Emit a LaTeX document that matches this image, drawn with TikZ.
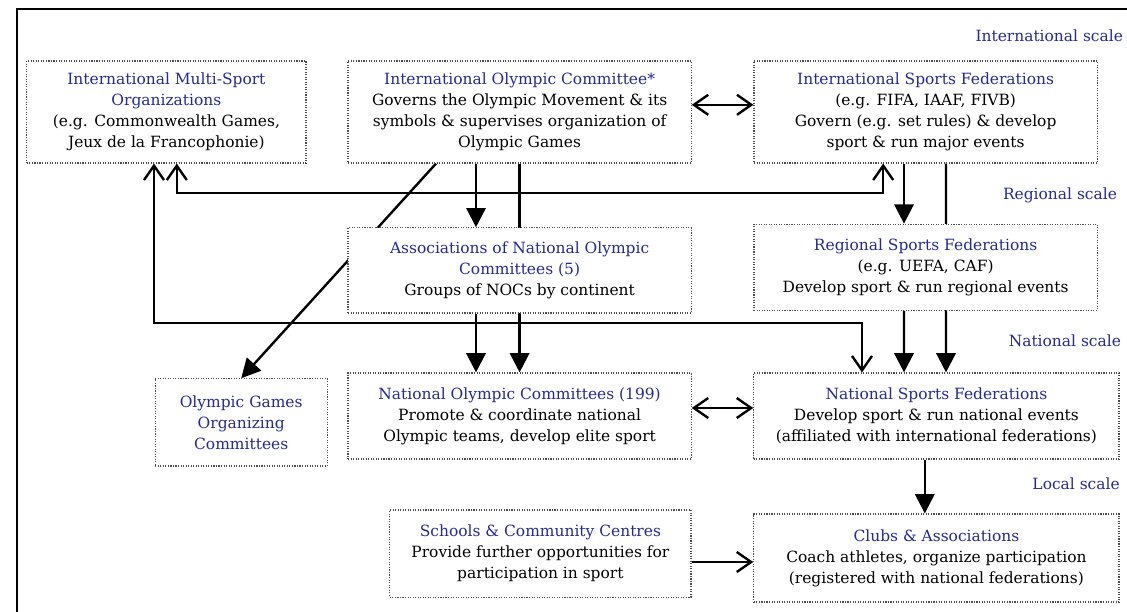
\documentclass[tikz,border=0pt]{standalone}
\usepackage{fontspec}
\setmainfont{DejaVu Serif}
\usepackage{tikz}
\usetikzlibrary{calc,arrows.meta,backgrounds}
\usepackage{xcolor}
\definecolor{titleblue}{RGB}{38,42,150}
\tikzset{
	box/.style={draw=black!70, densely dotted, line width=0.8pt, fill=white, align=center, inner sep=2pt, font=\fontsize{11}{14.9}\selectfont},
	link/.style={line width=1.7pt, black},
	solidtip/.style={link, -{Triangle[width=0.48cm,length=0.48cm]}},
	opentip/.style={link, -{Straight Barb[width=0.5cm,length=0.36cm]}},
	opentips/.style={link, {Straight Barb[width=0.5cm,length=0.36cm]}-{Straight Barb[width=0.5cm,length=0.36cm]}},
	scalelabel/.style={anchor=east, inner sep=0pt, text=titleblue, font=\fontsize{11}{14.9}\selectfont}
}
\newcommand{\ttl}[1]{\textcolor{titleblue}{#1}}

\begin{document}
\begin{tikzpicture}
		\useasboundingbox (0,0) rectangle (28.175,-15.3);
		\draw[line width=2pt] (0.425,-15.3) -- (0.425,-0.225) -- (28.175,-0.225);
		
		\node (intl) at (28.08,-0.9) [scalelabel] {International scale};
		\node (regl) at (27.93,-4.875) [scalelabel] {Regional scale};
		\node (natl) at (28.03,-8.525) [scalelabel] {National scale};
		\node (locl) at (28.0,-12.1) [scalelabel] {Local scale};
		
		\node (ms) at (4.16,-2.8) [box, minimum width=6.98cm, minimum height=2.55cm] {\ttl{International Multi-Sport}\\ \ttl{Organizations}\\ (e.g. Commonwealth Games,\\ Jeux de la Francophonie)};
		\node (ioc) at (12.99,-2.8) [box, minimum width=8.58cm, minimum height=2.55cm] {\ttl{International Olympic Committee*}\\ Governs the Olympic Movement \& its\\ symbols \& supervises organization of\\ Olympic Games};
		\node (isf) at (23.14,-2.8) [box, minimum width=8.58cm, minimum height=2.55cm] {\ttl{International Sports Federations}\\ (e.g. FIFA, IAAF, FIVB)\\ Govern (e.g. set rules) \& develop\\ sport \& run major events};
		
		\node (anoc) at (12.99,-6.76) [box, minimum width=8.58cm, minimum height=2.13cm] {\ttl{Associations of National Olympic}\\ \ttl{Committees (5)}\\ Groups of NOCs by continent};
		\node (rsf) at (23.14,-6.68) [box, minimum width=8.58cm, minimum height=2.15cm] {\ttl{Regional Sports Federations}\\ (e.g. UEFA, CAF)\\ Develop sport \& run regional events};
		
		\node (ogoc) at (6.03,-10.56) [box, minimum width=4.3cm, minimum height=2.18cm] {\ttl{Olympic Games}\\ \ttl{Organizing}\\ \ttl{Committees}};
		\node (noc) at (12.99,-10.4) [box, minimum width=8.58cm, minimum height=2.15cm] {\ttl{National Olympic Committees (199)}\\ Promote \& coordinate national\\ Olympic teams, develop elite sport};
		\node (nsf) at (23.41,-10.4) [box, minimum width=9.13cm, minimum height=2.15cm] {\ttl{National Sports Federations}\\ Develop sport \& run national events\\ (affiliated with international federations)};
		
		\node (sch) at (13.51,-13.84) [box, minimum width=7.53cm, minimum height=2.18cm] {\ttl{Schools \& Community Centres}\\ Provide further opportunities for\\ participation in sport};
		\node (clubs) at (23.41,-13.95) [box, minimum width=9.13cm, minimum height=2.2cm] {\ttl{Clubs \& Associations}\\ Coach athletes, organize participation\\ (registered with national federations)};
		
		\begin{scope}[on background layer]
		\draw[opentips] ($(ioc.east)+(0,0.18)$) -- ($(isf.west)+(0,0.18)$);
		\draw[opentips] ($(noc.east)+(0,0.2)$) -- ($(nsf.west)+(0,0.2)$);
		\draw[opentip] ($(sch.east)+(0,-0.21)$) -- ($(clubs.west)+(0,-0.1)$);
		
		\draw[opentips] ($(ms.south)+(0.26,0)$) -- ++(0,-0.73) -| ($(isf.south)+(-1.06,0)$);
		\draw[opentips] ($(ms.south)+(-0.31,0)$) -- ++(0,-3.98) -| ($(nsf.north)+(-1.86,0)$);
		
		\draw[solidtip] ($(ioc.south)+(-1.09,0)$) -- ($(anoc.north)+(-1.09,0)$);
		\draw[solidtip] ($(anoc.south)+(-1.09,0)$) -- ($(noc.north)+(-1.09,0)$);
		\draw[solidtip] (ioc.south) -- (noc.north);
		\draw[solidtip] ($(ioc.south)+(-2.09,0)$) -- (ogoc.north);
		
		\draw[solidtip] ($(isf.south)+(-0.54,0)$) -- ($(rsf.north)+(-0.54,0)$);
		\draw[solidtip] ($(rsf.south)+(-0.54,0)$) -- ($(nsf.north)+(-0.81,0)$);
		\draw[solidtip] ($(isf.south)+(0.51,0)$) -- ($(nsf.north)+(0.24,0)$);
		\draw[solidtip] ($(nsf.south)+(-0.29,0)$) -- ($(clubs.north)+(-0.29,0)$);
		\end{scope}
	\end{tikzpicture}
\end{document}
